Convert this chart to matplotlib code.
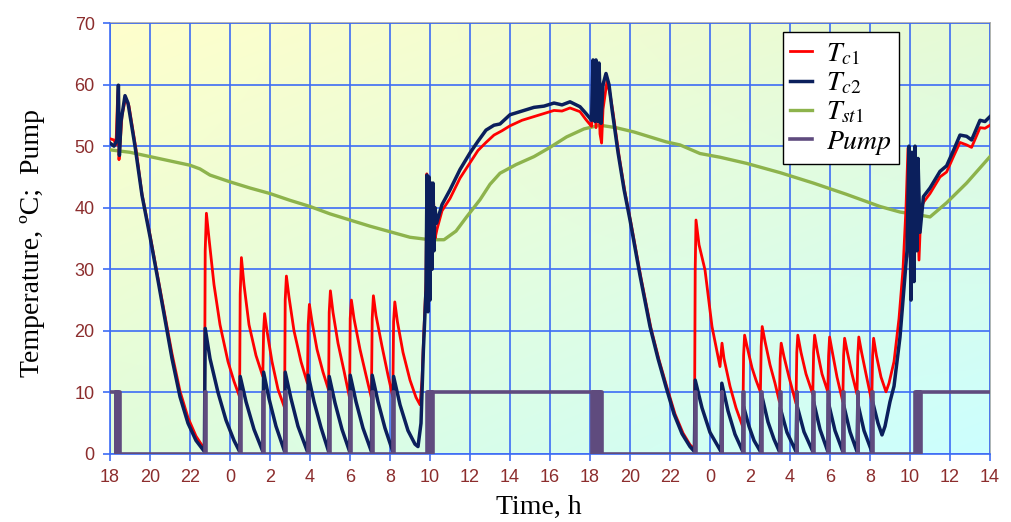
import matplotlib
matplotlib.use("Agg")
import matplotlib.pyplot as plt
import numpy as np

# ---------------- data (time in hours since 18:00 of day 1) ----------------
tick_hours = list(range(0, 45, 2))
tick_labels = [str((18 + h) % 24) for h in tick_hours]
y_ticks = [0, 10, 20, 30, 40, 50, 60, 70]

tc1_points = [
    (0, 51.2), (0.2, 51.0), (0.3, 50.2), (0.38, 58.0), (0.42, 59.5), (0.45, 47.8), (0.5, 50.0),
    (0.6, 55.0), (0.78, 57.8), (0.95, 56.5), (1.3, 49.5), (1.6, 42.2), (2.0, 35.6), (2.4, 28.6),
    (2.75, 22.4), (3.1, 16.3), (3.5, 10.2), (3.9, 5.9), (4.3, 2.9), (4.72, 0.8),
    (4.76, 33.0), (4.82, 39.1), (4.95, 35.0), (5.2, 27.5), (5.5, 21.0), (5.9, 15.0), (6.2, 11.8), (6.48, 9.3),
    (6.51, 26.0), (6.57, 31.9), (6.7, 27.5), (6.95, 21.0), (7.3, 16.0), (7.64, 12.6),
    (7.68, 20.0), (7.73, 22.8), (7.85, 20.0), (8.1, 15.0), (8.4, 10.5), (8.73, 7.5),
    (8.76, 25.0), (8.82, 28.9), (8.95, 25.5), (9.2, 20.0), (9.55, 15.0), (9.87, 11.5),
    (9.91, 21.0), (9.97, 24.3), (10.1, 21.5), (10.35, 17.0), (10.65, 13.3), (10.93, 10.4),
    (10.96, 23.0), (11.02, 26.5), (11.15, 23.0), (11.4, 18.0), (11.7, 13.5), (11.98, 9.1),
    (12.01, 22.0), (12.07, 25.0), (12.2, 22.0), (12.5, 17.0), (12.8, 12.8), (13.07, 9.1),
    (13.11, 22.0), (13.17, 25.7), (13.3, 22.5), (13.6, 17.5), (13.9, 12.8), (14.14, 9.3),
    (14.18, 21.5), (14.24, 24.7), (14.37, 21.5), (14.65, 16.5), (15.0, 12.0), (15.3, 9.2), (15.5, 8.0),
    (15.6, 12.0), (15.67, 18.0), (15.8, 28.0), (15.84, 45.5), (15.88, 27.0), (15.94, 45.0), (16.0, 30.0),
    (16.05, 44.0), (16.12, 33.0), (16.18, 41.0), (16.25, 35.0), (16.35, 36.5), (16.6, 39.5), (17.0, 41.5),
    (17.5, 44.8), (18.0, 47.3), (18.4, 49.3), (18.8, 50.6), (19.2, 51.8), (19.6, 52.5), (20.0, 53.3),
    (20.6, 54.2), (21.2, 54.8), (21.7, 55.3), (22.2, 55.8), (22.6, 55.7), (23.0, 56.2), (23.5, 55.6),
    (23.8, 54.3), (24.08, 53.2), (24.2, 62.5), (24.3, 53.0), (24.4, 62.0), (24.5, 52.0), (24.58, 50.5),
    (24.65, 56.0), (24.85, 60.5), (25.0, 58.5), (25.15, 55.5), (25.45, 48.5), (25.75, 42.5), (26.05, 37.5),
    (26.55, 28.6), (27.05, 20.4), (27.45, 15.3), (27.85, 10.8), (28.25, 6.5), (28.65, 3.4), (29.0, 1.5),
    (29.22, 0.8),
    (29.26, 30.0), (29.3, 38.0), (29.45, 34.0), (29.75, 29.9), (30.1, 20.7), (30.5, 14.2),
    (30.6, 18.0), (30.7, 15.5), (31.0, 11.0), (31.3, 7.5), (31.64, 4.4),
    (31.68, 16.0), (31.73, 19.3), (31.85, 17.5), (32.1, 14.0), (32.3, 12.0), (32.52, 10.1),
    (32.56, 17.5), (32.61, 20.7), (32.75, 18.3), (33.0, 14.5), (33.25, 11.5), (33.47, 8.5),
    (33.51, 15.5), (33.56, 18.0), (33.7, 15.8), (33.95, 12.5), (34.3, 8.2),
    (34.34, 16.5), (34.39, 19.3), (34.55, 16.5), (34.8, 13.0), (35.14, 9.7),
    (35.18, 16.5), (35.23, 19.3), (35.38, 16.5), (35.6, 13.0), (35.89, 10.1),
    (35.93, 16.0), (35.98, 19.0), (36.12, 16.5), (36.35, 12.5), (36.64, 8.5),
    (36.68, 16.0), (36.73, 18.8), (36.87, 16.5), (37.1, 13.0), (37.35, 9.7),
    (37.39, 16.0), (37.44, 19.0), (37.58, 16.5), (37.8, 13.0), (38.09, 8.5),
    (38.13, 16.0), (38.18, 18.8), (38.32, 16.0), (38.55, 12.5), (38.8, 10.1), (38.95, 11.5),
    (39.2, 15.0), (39.45, 22.0), (39.65, 30.0), (39.8, 40.0), (39.9, 49.7), (40.0, 32.0), (40.08, 49.0),
    (40.2, 35.0), (40.3, 48.0), (40.45, 31.5), (40.55, 40.0), (40.7, 41.0), (41.0, 42.3), (41.5, 45.0),
    (41.83, 45.8), (42.2, 48.5), (42.5, 50.6), (42.83, 50.2), (43.08, 49.8), (43.5, 53.0), (43.75, 52.9),
    (44.0, 53.4),
]

tc2_points = [
    (0, 50.5), (0.2, 50.0), (0.35, 51.0), (0.42, 59.9), (0.47, 48.5), (0.55, 54.0), (0.75, 58.2),
    (0.9, 57.0), (1.25, 50.0), (1.6, 42.0), (2.0, 35.3), (2.4, 28.2), (2.75, 21.8), (3.1, 15.5),
    (3.5, 9.3), (3.9, 5.0), (4.3, 2.2), (4.72, 0.4),
    (4.76, 20.4), (5.0, 15.5), (5.4, 10.0), (5.8, 5.5), (6.2, 2.2), (6.48, 0.4),
    (6.51, 12.6), (6.8, 8.5), (7.2, 4.0), (7.64, 0.4),
    (7.68, 13.3), (7.95, 9.0), (8.3, 4.5), (8.73, 0.4),
    (8.76, 13.3), (9.05, 9.0), (9.4, 4.5), (9.87, 0.4),
    (9.91, 12.8), (10.2, 8.5), (10.55, 4.3), (10.93, 0.4),
    (10.96, 12.6), (11.25, 8.3), (11.6, 4.0), (11.98, 0.4),
    (12.01, 12.8), (12.3, 8.5), (12.65, 4.2), (13.07, 0.4),
    (13.11, 12.8), (13.4, 8.5), (13.75, 4.2), (14.14, 0.4),
    (14.18, 12.6), (14.5, 8.0), (14.9, 3.8), (15.25, 1.6), (15.4, 1.2), (15.55, 5.0), (15.67, 16.9),
    (15.8, 26.6), (15.85, 45.3), (15.9, 23.1), (15.95, 45.0), (16.0, 25.0), (16.05, 44.0), (16.1, 30.0),
    (16.15, 44.0), (16.2, 33.0), (16.25, 40.0), (16.33, 37.5), (16.6, 40.5), (17.0, 42.9), (17.5, 46.2),
    (18.0, 48.9), (18.4, 50.8), (18.8, 52.6), (19.2, 53.4), (19.5, 53.6), (20.0, 55.1), (20.6, 55.7),
    (21.2, 56.3), (21.7, 56.5), (22.2, 57.0), (22.6, 56.7), (23.0, 57.2), (23.5, 56.4), (23.8, 55.3),
    (24.08, 54.2), (24.15, 64.0), (24.25, 54.0), (24.3, 64.0), (24.4, 54.0), (24.45, 63.5), (24.55, 53.7),
    (24.65, 60.0), (24.8, 61.8), (24.95, 60.0), (25.1, 56.0), (25.4, 49.0), (25.7, 43.0), (26.0, 38.0),
    (26.5, 29.0), (27.0, 20.7), (27.4, 15.5), (27.8, 10.9), (28.2, 6.5), (28.6, 3.3), (29.0, 1.2),
    (29.22, 0.4),
    (29.26, 12.0), (29.6, 7.5), (30.0, 3.5), (30.55, 0.4),
    (30.59, 11.5), (30.9, 7.0), (31.25, 3.2), (31.64, 0.4),
    (31.68, 7.7), (31.95, 4.5), (32.2, 2.2), (32.52, 0.4),
    (32.56, 9.9), (32.9, 5.2), (33.2, 2.4), (33.47, 0.4),
    (33.51, 7.5), (33.85, 3.5), (34.3, 0.4),
    (34.34, 8.0), (34.7, 3.6), (35.14, 0.4),
    (35.18, 8.5), (35.5, 4.0), (35.89, 0.4),
    (35.93, 8.2), (36.25, 3.8), (36.64, 0.4),
    (36.68, 8.0), (37.0, 3.6), (37.35, 0.4),
    (37.39, 8.2), (37.7, 3.8), (38.09, 0.4),
    (38.13, 8.5), (38.4, 5.0), (38.6, 3.1), (38.75, 4.5), (39.0, 8.5), (39.2, 11.0), (39.5, 19.0),
    (39.7, 27.0), (39.85, 33.0), (39.95, 50.0), (40.05, 25.0), (40.1, 49.0), (40.2, 28.0), (40.25, 50.0),
    (40.35, 33.0), (40.4, 48.0), (40.5, 36.0), (40.67, 41.8), (41.0, 43.2), (41.5, 45.9), (41.83, 46.8),
    (42.2, 49.5), (42.5, 51.8), (42.83, 51.6), (43.08, 51.0), (43.5, 54.2), (43.75, 54.0), (44.0, 54.8),
]

tst1_points = [
    (0, 49.4), (1, 49.0), (2, 48.3), (3, 47.6), (4, 46.9), (4.5, 46.3), (5, 45.3), (6, 44.2), (7, 43.2),
    (8, 42.3), (9, 41.2), (10, 40.2), (11, 39.0), (12, 38.0), (13, 37.0), (14, 36.1), (15, 35.2),
    (16, 34.8), (16.7, 34.8), (17.3, 36.2), (17.83, 38.5), (18.5, 41.3), (19.0, 43.8), (19.5, 45.6),
    (20.3, 47.0), (21.2, 48.3), (22.0, 49.8), (22.83, 51.5), (23.7, 52.8), (24.5, 53.4), (25.3, 53.0),
    (26.2, 52.3), (27.0, 51.5), (27.8, 50.7), (28.5, 50.2), (29.5, 48.8), (30.5, 48.2), (31.83, 47.2),
    (33.5, 45.7), (35.17, 44.0), (36.8, 42.2), (38.5, 40.2), (39.5, 39.3), (40.5, 38.8), (41.0, 38.5),
    (41.83, 40.8), (42.83, 44.0), (44.0, 48.3),
]

# pump switching events (time, state), drawn as steps
pump_events = [
    (0, 10), (0.28, 0), (0.32, 10), (0.38, 0), (0.42, 10), (0.48, 0),
    (4.75, 10), (4.78, 0), (6.5, 10), (6.53, 0), (7.67, 10), (7.7, 0), (8.75, 10), (8.78, 0),
    (9.9, 10), (9.93, 0), (10.95, 10), (10.98, 0), (12.0, 10), (12.03, 0), (13.1, 10), (13.13, 0),
    (14.17, 10), (14.2, 0),
    (15.85, 10), (15.9, 0), (15.95, 10), (16.0, 0), (16.05, 10), (16.1, 0), (16.15, 10),
    (24.1, 0), (24.15, 10), (24.2, 0), (24.25, 10), (24.3, 0), (24.35, 10), (24.4, 0), (24.45, 10),
    (24.5, 0), (24.55, 10), (24.58, 0),
    (29.25, 10), (29.28, 0), (30.58, 10), (30.61, 0), (31.67, 10), (31.7, 0), (32.55, 10), (32.58, 0),
    (33.5, 10), (33.53, 0), (34.33, 10), (34.36, 0), (35.17, 10), (35.2, 0), (35.92, 10), (35.95, 0),
    (36.67, 10), (36.7, 0), (37.38, 10), (37.41, 0), (38.12, 10), (38.15, 0),
    (40.25, 10), (40.3, 0), (40.35, 10), (40.4, 0), (40.45, 10), (40.5, 0), (40.55, 10), (44.0, 10),
]

# ---------------- styling ----------------
plt.rcParams['mathtext.fontset'] = 'stix'
C_RED = '#ff0000'
C_NAVY = '#0b1f5c'
C_GREEN = '#8db34c'
C_PUMP = '#5f4b7e'
C_GRID = '#3d6cf5'
C_TICK = '#8c2d2d'

fig = plt.figure(figsize=(10.11, 5.22), dpi=100)
ax = fig.add_axes([110 / 1011, 1 - 454 / 522, 880 / 1011, 431 / 522])

# background gradient (pale yellow top-left -> pale cyan bottom-right)
tl = np.array([1.00, 1.00, 0.80])
tr = np.array([0.90, 0.98, 0.84])
bl = np.array([0.88, 0.99, 0.86])
br = np.array([0.80, 1.00, 1.00])
u = np.linspace(0, 1, 200)[None, :, None]
v = np.linspace(0, 1, 100)[:, None, None]
img = tl * (1 - u) * (1 - v) + tr * u * (1 - v) + bl * (1 - u) * v + br * u * v
ax.imshow(img, extent=[0, 44, 0, 70], aspect='auto', zorder=0, interpolation='bilinear')

def unzip(points):
    return [p[0] for p in points], [p[1] for p in points]

t1, v1 = unzip(tc1_points)
t2, v2 = unzip(tc2_points)
t3, v3 = unzip(tst1_points)
tp, vp = unzip(pump_events)

l_green, = ax.plot(t3, v3, color=C_GREEN, lw=2.4, zorder=3, solid_joinstyle='round')
l_red, = ax.plot(t1, v1, color=C_RED, lw=2.0, zorder=4, solid_joinstyle='round')
l_navy, = ax.plot(t2, v2, color=C_NAVY, lw=2.5, zorder=5, solid_joinstyle='round')
l_pump, = ax.plot(tp, vp, color=C_PUMP, lw=2.6, zorder=6, drawstyle='steps-post')

ax.set_xlim(0, 44)
ax.set_ylim(0, 70)
ax.set_xticks(tick_hours)
ax.set_xticklabels(tick_labels)
ax.set_yticks(y_ticks)

ax.grid(True, color=C_GRID, lw=1.2, zorder=1)
ax.set_axisbelow(False)
for gl in ax.get_xgridlines() + ax.get_ygridlines():
    gl.set_zorder(1)

for s in ['left', 'bottom']:
    ax.spines[s].set_color(C_GRID)
    ax.spines[s].set_linewidth(1.2)
for s in ['top', 'right']:
    ax.spines[s].set_color('#a8a8a8')
    ax.spines[s].set_linewidth(1.2)

ax.tick_params(axis='both', direction='out', length=5, width=1.2, color=C_GRID,
               labelcolor=C_TICK, labelsize=13, pad=6)
for lab in ax.get_xticklabels() + ax.get_yticklabels():
    lab.set_family(['Liberation Sans Narrow', 'Liberation Sans'])

ax.set_ylabel('Temperature, ºC;  Pump', family='Liberation Serif', fontsize=20, va='center')
ax.yaxis.set_label_coords(-0.088, 0.49)
ax.set_xlabel('Time, h', family='Liberation Serif', fontsize=20, va='center')
ax.xaxis.set_label_coords(0.487, -0.125)

leg = fig.legend([l_red, l_navy, l_green, l_pump],
                 [r'$T_{\mathit{c1}}$', r'$T_{\mathit{c2}}$', r'$T_{\mathit{st1}}$', r'$\mathit{Pump}$'],
                 loc='upper left', bbox_to_anchor=(783 / 1011, 1 - 32 / 522),
                 fontsize=20, frameon=True, fancybox=False, framealpha=1,
                 edgecolor='black', handlelength=0.8, handletextpad=0.5,
                 labelspacing=0.05, borderpad=0.25, borderaxespad=0)
leg.get_frame().set_linewidth(1.0)
leg.set_zorder(10)

fig.savefig('out.png', dpi=100, facecolor='white')
